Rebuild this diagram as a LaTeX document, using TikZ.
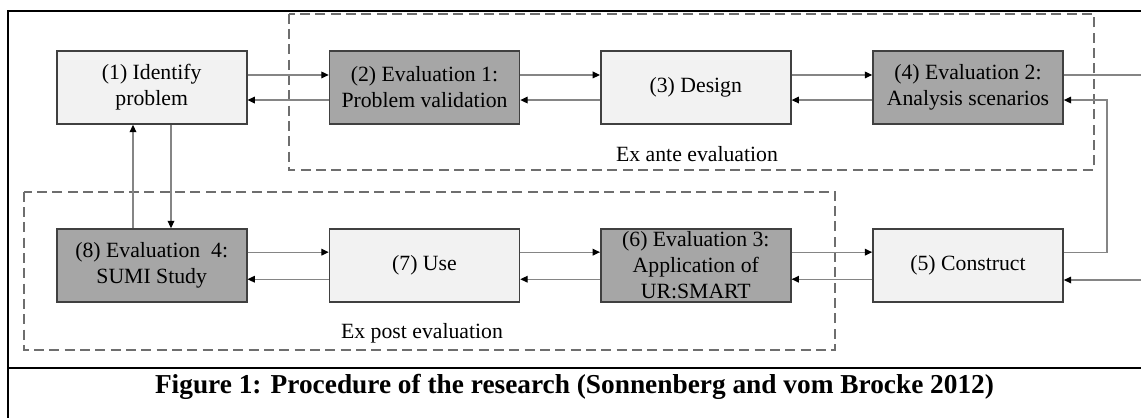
\documentclass[tikz,border=0pt]{standalone}
\usepackage{fontspec}
\setmainfont{Liberation Serif}
\usetikzlibrary{arrows.meta}

\definecolor{boxlight}{HTML}{F2F2F2}
\definecolor{boxdark}{HTML}{A6A6A6}
\definecolor{boxline}{HTML}{404040}
\definecolor{linegray}{HTML}{858585}
\definecolor{dashgray}{HTML}{6E6E6E}

\begin{document}
\begin{tikzpicture}[x=0.75pt,y=-0.75pt,
    stage/.style={draw=boxline, line width=1.2pt, minimum width=142.5pt,
      minimum height=54.75pt, inner sep=0pt, align=center,
      font=\fontsize{16.3}{19.5}\selectfont},
    light/.style={stage, fill=boxlight},
    dark/.style={stage, fill=boxdark},
    conn/.style={draw=linegray, line width=0.9pt},
    tip/.style={-{Triangle[length=5.5pt,width=5pt,color=black]}},
    phase/.style={draw=dashgray, line width=1.5pt, dash pattern=on 7.5pt off 4pt},
    phaselabel/.style={font=\fontsize{16.3}{19.5}\selectfont}]

  \useasboundingbox (0,0) rectangle (1141,418);

  % Frame and caption
  \draw[line width=1.5pt] (1141,11) -- (8,11) -- (8,418);
  \draw[line width=1.5pt] (8,368) -- (1141,368);
  \node[font=\bfseries\fontsize{20.5}{24}\selectfont, anchor=base] (caption) at (574.5,393)
    {Figure 1: Procedure of the research (Sonnenberg and vom Brocke 2012)};

  % Evaluation phases
  \draw[phase] (288.6,13.5) rectangle (1093.5,170);
  \node[phaselabel] (exante) at (697,154) {Ex ante evaluation};
  \draw[phase] (23.7,191.7) rectangle (835.3,350);
  \node[phaselabel] (expost) at (422,333) {Ex post evaluation};

  % Steps
  \node[light] (s1) at (151.7,87.5) {(1) Identify\\problem};
  \node[dark]  (s2) at (424.5,87.5) {(2) Evaluation 1:\\Problem validation};
  \node[light] (s3) at (695.8,87.5) {(3) Design};
  \node[dark]  (s4) at (968,87.5) {(4) Evaluation 2:\\Analysis scenarios};
  \node[light] (s5) at (968,265.5) {(5) Construct};
  \node[dark]  (s6) at (695.8,265.5) {(6) Evaluation 3:\\Application of\\UR:SMART};
  \node[light] (s7) at (424.5,265.5) {(7) Use};
  \node[dark]  (s8) at (151.7,265.5) {(8) Evaluation~ 4:\\SUMI Study};

  % Top row, forward and back
  \draw[conn,tip] ([yshift=9.4pt]s1.east) -- ([yshift=9.4pt]s2.west);
  \draw[conn,tip] ([yshift=9.4pt]s2.east) -- ([yshift=9.4pt]s3.west);
  \draw[conn,tip] ([yshift=9.4pt]s3.east) -- ([yshift=9.4pt]s4.west);
  \draw[conn,tip] ([yshift=-9.4pt]s2.west) -- ([yshift=-9.4pt]s1.east);
  \draw[conn,tip] ([yshift=-9.4pt]s3.west) -- ([yshift=-9.4pt]s2.east);
  \draw[conn,tip] ([yshift=-9.4pt]s4.west) -- ([yshift=-9.4pt]s3.east);

  % Bottom row, forward and back
  \draw[conn,tip] ([yshift=10pt]s8.east) -- ([yshift=10pt]s7.west);
  \draw[conn,tip] ([yshift=10pt]s7.east) -- ([yshift=10pt]s6.west);
  \draw[conn,tip] ([yshift=10pt]s6.east) -- ([yshift=10pt]s5.west);
  \draw[conn,tip] ([yshift=-10.3pt]s7.west) -- ([yshift=-10.3pt]s8.east);
  \draw[conn,tip] ([yshift=-10.3pt]s6.west) -- ([yshift=-10.3pt]s7.east);
  \draw[conn,tip] ([yshift=-10.3pt]s5.west) -- ([yshift=-10.3pt]s6.east);

  % Right side: out of (4), back from (5), in from the edge
  \coordinate (edgeout) at (1141,75);
  \coordinate (edgein) at (1141,280);
  \coordinate (turn) at (1107,0);
  \coordinate (back4) at ([yshift=-9.4pt]s4.east);
  \draw[conn] (edgeout -| s4.east) -- (edgeout);
  \draw[conn,tip] ([yshift=10pt]s5.east) -| (back4 -| turn) -- (back4);
  \draw[conn,tip] (edgein) -- (edgein -| s5.east);

  % Between (1) and (8)
  \coordinate (upx) at (133,0);
  \coordinate (downx) at (171,0);
  \draw[conn,tip] (upx |- s8.north) -- (upx |- s1.south);
  \draw[conn,tip] (downx |- s1.south) -- (downx |- s8.north);

\end{tikzpicture}
\end{document}
